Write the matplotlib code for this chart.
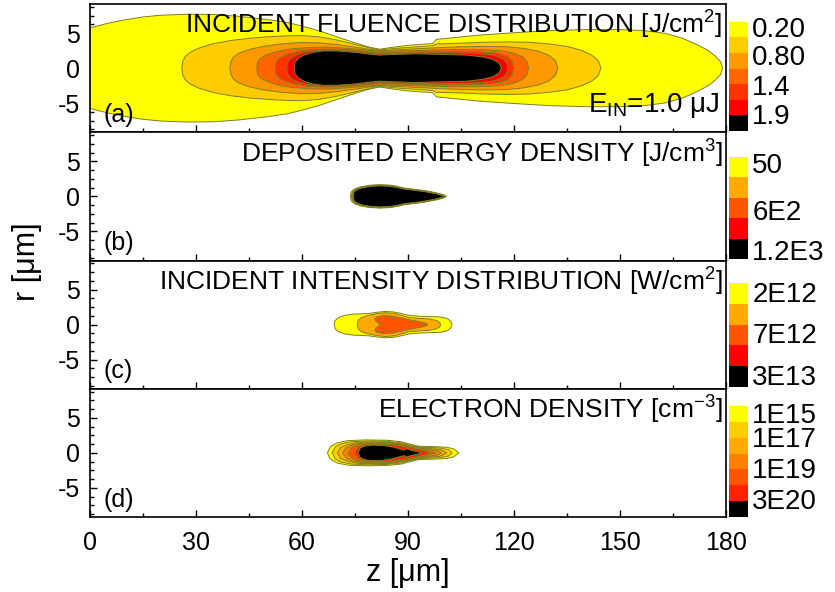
import matplotlib
matplotlib.use('Agg')
import matplotlib.pyplot as plt
from matplotlib.ticker import MultipleLocator

plt.rcParams['font.family'] = ['Liberation Sans', 'DejaVu Sans']
plt.rcParams['mathtext.fontset'] = 'custom'
plt.rcParams['mathtext.rm'] = 'Liberation Sans'
plt.rcParams['mathtext.it'] = 'Liberation Sans:italic'
plt.rcParams['mathtext.default'] = 'regular'
plt.rcParams['axes.unicode_minus'] = False

# ---- data: upper half outlines (z [um], r [um]) of each contour level ----
# (a) incident fluence
fl_yellow = [(-1, 0), (-1, 5.7), (0, 5.75), (5, 6.4), (10, 6.9), (15, 7.3), (20, 7.55), (28, 7.7),
             (35, 7.65), (42, 7.4), (50, 6.95), (56, 6.5), (60, 6.0), (65, 5.3), (70, 4.45), (75, 3.6),
             (79, 3.0), (82, 2.7), (86, 3.0), (90, 3.25), (94, 3.4), (97, 3.5), (98, 4.1), (100, 4.2),
             (110, 4.7), (120, 5.05), (130, 5.35), (140, 5.5), (150, 5.5), (157, 5.35), (163, 4.95),
             (168, 4.2), (172, 3.3), (175, 2.5), (177, 1.7), (178.5, 0.9), (179, 0)]
fl_gold = [(26, 0), (26.2, 0.9), (27, 1.7), (28.5, 2.3), (31, 2.9), (35, 3.5), (40, 3.95), (45, 4.25),
           (50, 4.45), (55, 4.6), (60, 4.65), (65, 4.45), (70, 4.0), (75, 3.4), (79, 2.9), (82, 2.6),
           (86, 2.8), (90, 2.95), (97, 3.2), (98, 3.45), (105, 3.55), (112, 3.7), (118, 3.75),
           (124, 3.7), (130, 3.45), (135, 3.1), (139, 2.55), (142, 1.85), (143.8, 1.1), (144.6, 0)]
fl_orange = [(39.6, 0), (39.8, 0.8), (40.5, 1.5), (42, 2.1), (45, 2.65), (49, 3.1), (54, 3.45),
             (60, 3.65), (65, 3.6), (70, 3.35), (75, 3.0), (79, 2.7), (82, 2.5), (86, 2.6), (92, 2.75),
             (98, 2.9), (105, 3.05), (112, 3.1), (118, 3.05), (123, 2.8), (127, 2.4), (130, 1.8),
             (131.8, 1.0), (132.4, 0)]
fl_dkorange = [(47.2, 0), (47.4, 0.8), (48.2, 1.4), (50, 1.9), (53, 2.4), (57, 2.75), (62, 2.95),
               (67, 3.0), (72, 2.85), (77, 2.65), (82, 2.4), (88, 2.45), (95, 2.55), (102, 2.65),
               (110, 2.65), (116, 2.5), (120, 2.15), (122.5, 1.6), (123.7, 0.9), (124.1, 0)]
fl_orred = [(52.4, 0), (52.6, 0.8), (53.5, 1.4), (55.5, 1.95), (58.5, 2.35), (62, 2.6), (67, 2.7),
            (72, 2.65), (77, 2.45), (82, 2.2), (88, 2.25), (95, 2.35), (102, 2.4), (110, 2.35),
            (115, 2.15), (118, 1.7), (119.5, 1.0), (120, 0)]
fl_red = [(55.7, 0), (55.9, 0.8), (56.8, 1.4), (58.5, 1.9), (61, 2.3), (65, 2.55), (70, 2.55),
          (76, 2.35), (82, 2.05), (88, 2.12), (95, 2.2), (102, 2.2), (110, 2.1), (114.5, 1.8),
          (117, 1.3), (118, 0.7), (118.3, 0)]
fl_black = [(57.8, 0), (58, 0.8), (59, 1.4), (60.5, 1.85), (63, 2.25), (66, 2.45), (70, 2.45),
            (75, 2.25), (80, 1.95), (82, 1.86), (86, 1.95), (92, 2.05), (100, 1.95), (107, 1.85),
            (111, 1.6), (114, 1.25), (115.8, 0.7), (116.4, 0)]
fluence_levels = [fl_yellow, fl_gold, fl_orange, fl_dkorange, fl_orred, fl_red, fl_black]
fluence_ticks = ['0.20', '0.80', '1.4', '1.9']

# (b) deposited energy density
de_yellow = [(73.7, 0), (73.9, 0.6), (74.8, 1.05), (76.5, 1.35), (79, 1.58), (82, 1.67), (85, 1.6),
             (87, 1.42), (89, 1.18), (92, 1.0), (95, 0.8), (98, 0.5), (100, 0.25), (100.9, 0)]
de_orange = [(74.0, 0), (74.2, 0.6), (75.0, 1.0), (76.6, 1.3), (79, 1.53), (82, 1.62), (85, 1.55),
             (87, 1.37), (89, 1.13), (92, 0.95), (95, 0.75), (98, 0.46), (99.9, 0.2), (100.7, 0)]
de_dkorange = [(74.2, 0), (74.4, 0.6), (75.2, 0.98), (76.8, 1.27), (79.2, 1.49), (82, 1.57),
               (85, 1.5), (87, 1.32), (89, 1.08), (92, 0.91), (95, 0.7), (98, 0.41), (99.8, 0.16),
               (100.5, 0)]
de_red = [(74.35, 0), (74.55, 0.6), (75.35, 0.96), (76.9, 1.24), (79.3, 1.45), (82, 1.53),
          (85, 1.46), (87, 1.29), (89, 1.05), (92, 0.88), (95, 0.67), (98, 0.38), (99.8, 0.14),
          (100.4, 0)]
de_black = [(74.5, 0), (74.7, 0.6), (75.5, 0.95), (77, 1.22), (79.5, 1.42), (82, 1.5), (85, 1.43),
            (87, 1.26), (89, 1.03), (92, 0.86), (95, 0.65), (98, 0.36), (99.8, 0.12), (100.3, 0)]
energy_levels = [de_yellow, de_orange, de_dkorange, de_red, de_black]
energy_ticks = ['50', '6E2', '1.2E3']

# (c) incident intensity
in_yellow = [(69.1, 0), (69.4, 0.6), (70.3, 1.0), (72, 1.32), (74.5, 1.5), (77, 1.55), (79, 1.6),
             (81, 1.75), (83.5, 1.88), (86, 1.8), (88, 1.6), (90, 1.35), (93, 1.2), (96, 1.15),
             (99, 1.1), (101, 0.9), (102.1, 0.5), (102.5, 0)]
in_orange = [(75.6, 0), (75.9, 0.6), (76.8, 1.0), (78.5, 1.3), (81, 1.55), (83.5, 1.7), (86, 1.6),
             (88, 1.35), (90, 1.05), (93, 0.9), (96, 0.82), (98, 0.6), (99, 0.3), (99.2, 0)]
in_dkorange = [(82.3, 0), (81.6, 0.25), (80.8, 0.55), (80.6, 0.85), (81.2, 1.1), (83.3, 1.3),
               (85.5, 1.2), (88, 0.95), (91, 0.62), (93.5, 0.38), (95, 0.2), (95.6, 0)]
intensity_levels = [in_yellow, in_orange, in_dkorange]
intensity_ticks = ['2E12', '7E12', '3E13']

# (d) electron density
ed_yellow = [(67.2, 0), (68, 0.9), (70, 1.45), (73, 1.75), (78, 1.85), (84, 1.8), (88, 1.6),
             (91, 1.2), (93, 0.95), (97, 0.9), (101, 0.8), (103, 0.55), (104.4, 0)]
ed_gold = [(68.5, 0), (69.5, 0.9), (71, 1.3), (74, 1.6), (79, 1.7), (84, 1.65), (88, 1.45),
           (91, 1.05), (94, 0.8), (99, 0.7), (101.5, 0.45), (102.5, 0)]
ed_orange = [(70, 0), (71, 0.8), (73, 1.2), (76, 1.5), (80, 1.55), (85, 1.5), (88, 1.3), (91, 0.95),
             (95, 0.65), (99, 0.5), (101, 0)]
ed_dkorange = [(71.5, 0), (72.5, 0.75), (74, 1.1), (77, 1.4), (81, 1.45), (85, 1.38), (88, 1.2),
               (92, 0.8), (96, 0.5), (98.5, 0.3), (99.5, 0)]
ed_orred = [(73, 0), (74, 0.75), (76, 1.15), (79, 1.32), (83, 1.33), (87, 1.2), (91, 0.8),
            (95, 0.45), (98, 0)]
ed_red = [(75, 0), (75.8, 0.8), (78, 1.15), (82, 1.25), (86, 1.15), (90, 0.8), (94, 0.4), (96.5, 0)]
ed_black = [(75.9, 0), (76.5, 0.7), (78, 1.0), (80, 1.1), (83, 1.05), (86, 0.8), (88, 0.5),
            (89, 0.4), (89.5, 0.6), (91, 0.35), (93, 0.15), (94, 0)]
electron_levels = [ed_yellow, ed_gold, ed_orange, ed_dkorange, ed_orred, ed_red, ed_black]
electron_ticks = ['1E15', '1E17', '1E19', '3E20']

titles = ['INCIDENT FLUENCE DISTRIBUTION [J/cm$^{2}$]',
          'DEPOSITED ENERGY DENSITY [J/cm$^{3}$]',
          'INCIDENT INTENSITY DISTRIBUTION [W/cm$^{2}$]',
          'ELECTRON DENSITY [cm$^{-3}$]']
panel_tags = ['(a)', '(b)', '(c)', '(d)']

# ---- styles ----
c7a = ['#FFFF00', '#FFCC00', '#FF9900', '#FF6600', '#FF3300', '#FF0000', '#000000']
c5 = ['#FFFF00', '#FFAA00', '#FF5500', '#FF0000', '#000000']
c7d = ['#FFFF00', '#FFCC00', '#FFAA00', '#FF8000', '#FF5500', '#FF2200', '#000000']
EDGE = '#7f7f22'

W, H = 835, 592
fig = plt.figure(figsize=(W / 100, H / 100), dpi=100)

ax_left, ax_right = 90, 726
panel_top = [4, 132.25, 260.5, 388.75]
panel_h = 128.25
cbar_px = [(21.7, 131), (156.7, 259), (283, 387), (406, 517)]
cbar_label_pos = [[0.954, 0.693, 0.42, 0.16], [0.94, 0.475, 0.09], [0.91, 0.52, 0.115],
                  [0.94, 0.72, 0.44, 0.16]]

panels = [(fluence_levels, c7a, fluence_ticks), (energy_levels, c5, energy_ticks),
          (intensity_levels, c5, intensity_ticks), (electron_levels, c7d, electron_ticks)]


def draw_level(ax, outline, color):
    z = [p[0] for p in outline]
    r = [p[1] for p in outline]
    zz = z + z[::-1]
    rr = r + [-v for v in r[::-1]]
    ax.fill(zz, rr, facecolor=color, edgecolor=EDGE, linewidth=0.7, zorder=2)


axes = []
for i, (levels, cols, ticks) in enumerate(panels):
    top = panel_top[i]
    ax = fig.add_axes([ax_left / W, 1 - (top + panel_h) / H, (ax_right - ax_left) / W, panel_h / H])
    for lev, col in zip(levels, cols):
        draw_level(ax, lev, col)
    ax.set_xlim(0, 180)
    ax.set_ylim(-9.15, 9.15)
    ax.set_yticks([-5, 0, 5])
    ax.yaxis.set_minor_locator(MultipleLocator(1.25))
    ax.xaxis.set_major_locator(MultipleLocator(30))
    ax.xaxis.set_minor_locator(MultipleLocator(15))
    ax.tick_params(which='both', direction='in', top=False, right=False, labelsize=18, width=1)
    ax.tick_params(which='major', length=5)
    ax.tick_params(which='minor', length=3)
    ax.tick_params(axis='y', pad=7)
    ax.tick_params(axis='x', pad=10)
    for s in ax.spines.values():
        s.set_linewidth(1.2)
    if i < 3:
        ax.tick_params(labelbottom=False)
    ax.text(0.995, 0.835, titles[i], transform=ax.transAxes, ha='right', va='center', fontsize=19)
    ax.text(0.022, 0.135, panel_tags[i], transform=ax.transAxes, ha='left', va='center', fontsize=18)
    axes.append(ax)

    # colour scale
    ctop, cbot = cbar_px[i]
    cax = fig.add_axes([728.5 / W, 1 - cbot / H, 19.5 / W, (cbot - ctop) / H])
    n = len(cols)
    cax.barh([k + 0.5 for k in range(n)], 1, height=1, color=cols[::-1])
    cax.set_xlim(0, 1)
    cax.set_ylim(0, n)
    cax.set_xticks([])
    cax.set_yticks([p * n for p in cbar_label_pos[i]])
    cax.set_yticklabels(ticks)
    cax.yaxis.tick_right()
    cax.tick_params(axis='y', length=0, pad=3, labelsize=20)
    for s in cax.spines.values():
        s.set_visible(False)

axes[0].text(0.99, 0.21, r'E$_{\mathrm{IN}}$=1.0 μJ', transform=axes[0].transAxes,
             ha='right', va='center', fontsize=20)
axes[3].set_xlabel('z [μm]', fontsize=22, labelpad=2)
fig.text(0.032, 1 - 262 / H, 'r [μm]', rotation=90, ha='center', va='center', fontsize=22)

fig.savefig('out.png', dpi=100)
